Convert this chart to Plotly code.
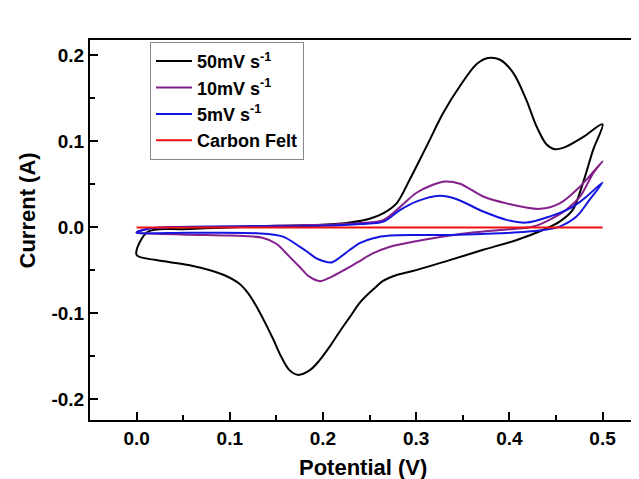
import plotly.graph_objects as go

# 50 mV/s cycle (forward then reverse)
x50 = [0.000, 0.012, 0.05, 0.10, 0.15, 0.20, 0.229, 0.250, 0.265, 0.279, 0.293, 0.311, 0.329, 0.347, 0.365, 0.377,
       0.390, 0.404, 0.418, 0.429, 0.440, 0.449, 0.461, 0.479, 0.500,
       0.490, 0.479, 0.468, 0.454, 0.436, 0.408, 0.372, 0.336, 0.300, 0.280, 0.265, 0.254, 0.240, 0.229, 0.218, 0.207,
       0.196, 0.186, 0.173, 0.164, 0.155, 0.147, 0.138, 0.129, 0.120, 0.111, 0.093, 0.057, 0.021, 0.000]
y50 = [-0.032, -0.005, -0.002, 0.000, 0.002, 0.003, 0.0056, 0.010, 0.0166, 0.028, 0.0555, 0.094, 0.133, 0.1645, 0.190, 0.197,
       0.195, 0.180, 0.149, 0.118, 0.0964, 0.091, 0.094, 0.105, 0.120,
       0.0905, 0.0516, 0.0204, 0.0068, -0.003, -0.0146, -0.026, -0.038, -0.0497, -0.055, -0.062, -0.072, -0.087, -0.104, -0.121, -0.139,
       -0.155, -0.166, -0.1715, -0.166, -0.150, -0.131, -0.111, -0.0925, -0.077, -0.066, -0.055, -0.044, -0.038, -0.032]

# 10 mV/s cycle
x10 = [0.000, 0.015, 0.10, 0.20, 0.240, 0.265, 0.283, 0.300, 0.318, 0.331, 0.347, 0.372, 0.397, 0.433, 0.454, 0.476, 0.500,
       0.490, 0.476, 0.461, 0.443, 0.426, 0.390, 0.354, 0.318, 0.300, 0.272, 0.254, 0.238, 0.222, 0.208, 0.197,
       0.185, 0.175, 0.164, 0.150, 0.135, 0.100, 0.057, 0.007, 0.000]
y10 = [-0.006, -0.001, 0.001, 0.003, 0.005, 0.0088, 0.024, 0.040, 0.0497, 0.0535, 0.0508, 0.036, 0.028, 0.0216, 0.028, 0.0477, 0.077,
       0.063, 0.036, 0.0204, 0.0088, 0.001, -0.003, -0.0068, -0.0126, -0.016, -0.0224, -0.030, -0.040, -0.050, -0.058, -0.0625,
       -0.057, -0.046, -0.034, -0.019, -0.012, -0.0095, -0.0085, -0.0068, -0.006]

# 5 mV/s cycle
x5 = [0.000, 0.015, 0.10, 0.20, 0.240, 0.265, 0.283, 0.300, 0.325, 0.343, 0.372, 0.397, 0.418, 0.443, 0.468, 0.483, 0.500,
      0.486, 0.472, 0.454, 0.433, 0.390, 0.336, 0.300, 0.272, 0.254, 0.240, 0.229, 0.218, 0.209,
      0.200, 0.193, 0.184, 0.175, 0.157, 0.129, 0.057, 0.000]
y5 = [-0.006, -0.001, 0.001, 0.002, 0.004, 0.0068, 0.0204, 0.030, 0.0368, 0.033, 0.0185, 0.0088, 0.0056, 0.0126, 0.024, 0.036, 0.0523,
      0.032, 0.0126, 0.001, -0.0037, -0.0068, -0.0088, -0.0088, -0.0095, -0.0126, -0.018, -0.026, -0.035, -0.0407,
      -0.039, -0.036, -0.029, -0.0224, -0.0107, -0.0068, -0.0062, -0.006]

# Carbon felt
xcf = [0.0, 0.5]
ycf = [0.0, 0.0]

x_tickvals = [0.0, 0.1, 0.2, 0.3, 0.4, 0.5]
x_ticktext = ["0.0", "0.1", "0.2", "0.3", "0.4", "0.5"]
y_tickvals = [-0.2, -0.1, 0.0, 0.1, 0.2]
y_ticktext = ["-0.2", "-0.1", "0.0", "0.1", "0.2"]

series = [
    ("50mV s<sup>-1</sup>", x50, y50, "#000000"),
    ("10mV s<sup>-1</sup>", x10, y10, "#84208C"),
    ("5mV s<sup>-1</sup>", x5, y5, "#1414E0"),
    ("Carbon Felt", xcf, ycf, "#F01010"),
]

fig = go.Figure()
for name, xs, ys, col in series:
    fig.add_trace(go.Scatter(x=xs, y=ys, mode="lines", name=name,
                             line=dict(color=col, width=2, shape="spline", smoothing=0.9)))

font_family = "Liberation Sans, Arial, sans-serif"
axis_common = dict(
    showline=True, linecolor="black", linewidth=2, mirror=True,
    ticks="inside", ticklen=8, tickwidth=1.5, tickcolor="black",
    showgrid=False, zeroline=False, automargin=False,
    tickfont=dict(family=font_family, size=19, color="black", weight="bold"),
    minor=dict(ticks="inside", ticklen=5, tickwidth=1.5, tickcolor="black", dtick=0.05, showgrid=False),
)

# The page body has an 8px default margin, so the figure is sized/offset to compensate.
fig.update_layout(
    width=631, height=471,
    margin=dict(l=82, r=2, t=32, b=59),
    plot_bgcolor="white", paper_bgcolor="white",
    font=dict(family=font_family, color="black"),
    xaxis=dict(range=[-0.05, 0.537], tickmode="array", tickvals=x_tickvals, ticktext=x_ticktext,
               **axis_common),
    yaxis=dict(range=[-0.224, 0.218], tickmode="array", tickvals=y_tickvals, ticktext=y_ticktext,
               **axis_common),
    legend=dict(x=0.1097, y=0.995, xanchor="left", yanchor="top",
                bordercolor="#888888", borderwidth=1, bgcolor="white",
                font=dict(family=font_family, size=18, color="black", weight="bold"),
                tracegroupgap=0, itemwidth=36),
    showlegend=True,
    annotations=[
        dict(text="Potential (V)", xref="paper", yref="paper", x=0.499, y=-0.1237,
             xanchor="center", yanchor="middle", showarrow=False,
             font=dict(family=font_family, size=22, color="black", weight="bold")),
        dict(text="Current (A)", xref="paper", yref="paper", x=-0.1143, y=0.5526,
             xanchor="center", yanchor="middle", showarrow=False, textangle=-90,
             font=dict(family=font_family, size=22, color="black", weight="bold")),
    ],
)

fig.write_html("out.html")
